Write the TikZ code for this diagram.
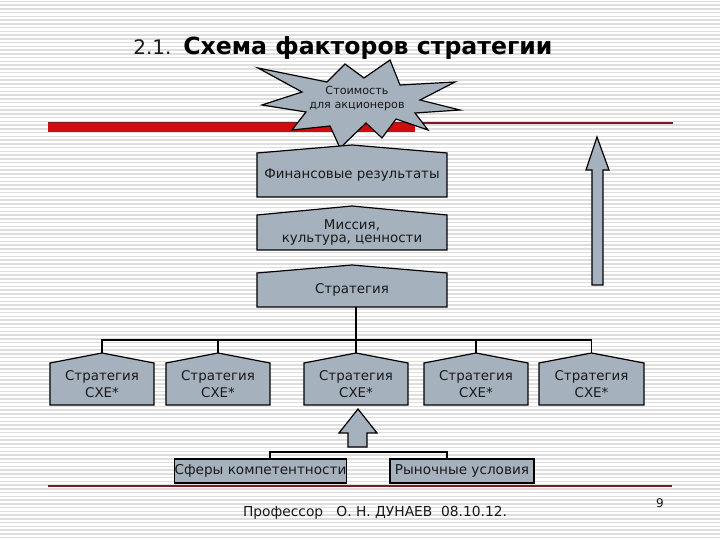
\documentclass[tikz,border=0pt]{standalone}
\usepackage{fontspec}
\setmainfont{DejaVu Sans}
\definecolor{boxfill}{RGB}{166,177,190}
\definecolor{stripe}{RGB}{222,222,222}
\definecolor{barred}{RGB}{208,12,12}
\definecolor{linered}{RGB}{125,25,35}
\definecolor{txt}{RGB}{25,25,25}
\tikzset{
  boxstyle/.style={draw=black, fill=boxfill, line width=0.6pt, line join=miter},
  boxtext/.style={inner sep=0pt, align=center, font=\fontsize{6.6}{6.4}\selectfont, text=txt},
  flatbox/.style={draw=black, fill=boxfill, line width=0.6pt, inner sep=0pt,
    minimum height=12pt, font=\fontsize{6.8}{8}\selectfont, text=txt},
  conn/.style={draw=black, line width=0.6pt},
}
\newcommand{\housebox}[8]{% name, xl, xr, ypeak, ycorner, ybottom, font, text
  \pgfmathsetmacro\xm{(#2+#3)/2}
  \pgfmathsetmacro\ym{(#5+#6)/2}
  \draw[boxstyle] (#2,#6) -- (#2,#5) -- (\xm,#4) -- (#3,#5) -- (#3,#6) -- cycle;
  \coordinate (#1-top) at (\xm,#4);
  \coordinate (#1-bot) at (\xm,#6);
  \node[boxtext, font=#7] (#1) at (\xm,\ym) {#8};
}
\begin{document}
\begin{tikzpicture}[x=0.5pt, y=-0.5pt]
\useasboundingbox (0,0) rectangle (720,540);
\fill[white] (0,0) rectangle (720,540);
% background stripes
\foreach \k in {0,...,143} {
  \draw[stripe, line width=0.75pt] (0,{1.5+3.75*\k}) -- (720,{1.5+3.75*\k});
}
% title
\node[anchor=base west, inner sep=0pt, font=\fontsize{10}{12}\selectfont, text=txt] (num) at (133,55) {2.1.};
\node[anchor=base west, inner sep=0pt, font=\fontsize{11.8}{14}\selectfont\bfseries, text=black] (title) at (183,55) {Схема факторов стратегии};
% top rule and red bar
\draw[linered, line width=0.6pt] (48,123) -- (673,123);
\fill[barred] (48,123) rectangle (415,132);
% star
\draw[boxstyle] (258,68) -- (327,82) -- (345,64) -- (364,78) -- (390,60) -- (400,85)
  -- (455,82) -- (420,100) -- (460,110) -- (415,113) -- (428,130) -- (396,119)
  -- (382,138) -- (366,123) -- (340,148) -- (330,126) -- (292,130) -- (306,112)
  -- (262,105) -- (302,92) -- cycle;
\node[boxtext, font=\fontsize{5.6}{7}\selectfont] (star) at (357,99) {Стоимость\\для акционеров};
% stacked boxes
\housebox{fin}{257}{447}{145}{153}{197}{\fontsize{6.7}{8}\selectfont}{Финансовые результаты}
\housebox{mis}{257}{447}{206}{215}{250}{\fontsize{6.7}{6.3}\selectfont}{Миссия,\\культура, ценности}
\housebox{strat}{257}{447}{265}{273}{307}{\fontsize{6.7}{8}\selectfont}{Стратегия}
% SBU strategies
\housebox{s1}{50}{154}{353}{363}{405}{\fontsize{6.7}{8.5}\selectfont}{Стратегия\\СХЕ*}
\housebox{s2}{166}{270}{353}{363}{405}{\fontsize{6.7}{8.5}\selectfont}{Стратегия\\СХЕ*}
\housebox{s3}{304}{408}{353}{363}{405}{\fontsize{6.7}{8.5}\selectfont}{Стратегия\\СХЕ*}
\housebox{s4}{424}{528}{353}{363}{405}{\fontsize{6.7}{8.5}\selectfont}{Стратегия\\СХЕ*}
\housebox{s5}{539}{644}{353}{363}{405}{\fontsize{6.7}{8.5}\selectfont}{Стратегия\\СХЕ*}
% tree connectors
\coordinate (hub) at (356,340);
\draw[conn] (s3-top) -- (s3-top |- strat-bot);
\draw[conn] (s1-top) -- (s1-top |- hub) -- (s5-top |- hub) -- (s5-top);
\draw[conn] (s2-top) -- (s2-top |- hub);
\draw[conn] (s4-top) -- (s4-top |- hub);
% bottom boxes
\node[flatbox, minimum width=83.5pt] (comp) at (260.5,471) {Сферы компетентности};
\node[flatbox, minimum width=72pt] (market) at (462,471) {Рыночные условия};
\coordinate (cj1) at (270,452);
\coordinate (cj2) at (447,452);
\draw[conn] (cj1 |- comp.north) -- (cj1) -- (cj2) -- (cj2 |- market.north);
% central up arrow
\draw[boxstyle] (348,447) -- (348,433) -- (339,433) -- (358,409) -- (377,433)
  -- (367,433) -- (367,447) -- cycle;
% right up arrow
\draw[boxstyle] (592,285) -- (592,170) -- (586,170) -- (597,137) -- (609,170)
  -- (603,170) -- (603,285) -- cycle;
% bottom rule and footer
\draw[linered, line width=0.6pt] (48,486) -- (672,486);
\node[inner sep=0pt, font=\fontsize{6.9}{8}\selectfont, text=txt] (footer) at (375,513) {Профессор\ \ \ О. Н. ДУНАЕВ\ \ 08.10.12.};
\node[inner sep=0pt, font=\fontsize{6}{8}\selectfont, text=txt] (page) at (660,503) {9};
\end{tikzpicture}
\end{document}
